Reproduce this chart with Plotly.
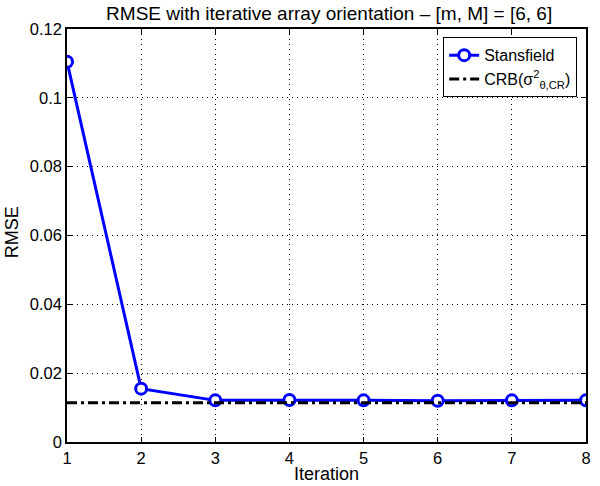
import plotly.graph_objects as go

iterations = [1, 2, 3, 4, 5, 6, 7, 8]
rmse_stansfield = [0.1105, 0.0155, 0.0121, 0.0122, 0.0121, 0.0120, 0.0121, 0.0121]
crb_x = [1, 8]
crb_value = [0.0114, 0.0114]
y_ticks = [0, 0.02, 0.04, 0.06, 0.08, 0.1, 0.12]
y_tick_labels = ["0", "0.02", "0.04", "0.06", "0.08", "0.1", "0.12"]

FONT = "Liberation Sans, Arial, Helvetica, sans-serif"

fig = go.Figure()
fig.add_trace(go.Scatter(
    x=iterations, y=rmse_stansfield, mode="lines+markers", name="Stansfield",
    line=dict(color="#0000ff", width=3),
    marker=dict(symbol="circle", size=11, color="white",
                line=dict(color="#0000ff", width=3)),
))
fig.add_trace(go.Scatter(
    x=crb_x, y=crb_value, mode="lines",
    name="CRB(σ<sup>2</sup><sub>θ,CR</sub>)",
    line=dict(color="black", width=3, dash="10px,4px,3px,4px"),
))

axis_common = dict(
    showline=True, linecolor="black", linewidth=1.5, mirror="allticks",
    ticks="inside", ticklen=5, tickcolor="black",
    showgrid=True, gridcolor="black", gridwidth=1, griddash="1px,4px",
    zeroline=False, tickfont=dict(family=FONT, size=16.5, color="black"),
)

fig.update_layout(
    width=600, height=486,
    margin=dict(l=67, r=9, t=29, b=44),
    paper_bgcolor="white", plot_bgcolor="white",
    title=dict(text="RMSE with iterative array orientation – [m, M] = [6, 6]",
               x=0.5486, xanchor="center", yref="container", y=0.972, yanchor="middle",
               font=dict(family=FONT, size=19, color="black")),
    xaxis=dict(range=[1, 8], tickvals=iterations, **axis_common),
    yaxis=dict(range=[0, 0.12], tickvals=y_ticks, ticktext=y_tick_labels, **axis_common),
    legend=dict(x=0.983, xanchor="right", y=0.98, yanchor="top",
                bgcolor="white", bordercolor="black", borderwidth=1,
                font=dict(family=FONT, size=16, color="black"),
                tracegroupgap=0),
    showlegend=True,
    annotations=[
        dict(text="Iteration", xref="paper", yref="paper", x=0.5, y=-0.078,
             xanchor="center", yanchor="middle", showarrow=False,
             font=dict(family=FONT, size=18, color="black")),
        dict(text="RMSE", xref="paper", yref="paper", x=-0.106, y=0.508,
             xanchor="center", yanchor="middle", showarrow=False, textangle=-90,
             font=dict(family=FONT, size=18, color="black")),
    ],
)

fig.write_html(
    "out.html",
    config={"displayModeBar": False},
    post_script="document.body.style.margin='0';document.body.style.padding='0';"
                "document.body.style.overflow='hidden';",
)
